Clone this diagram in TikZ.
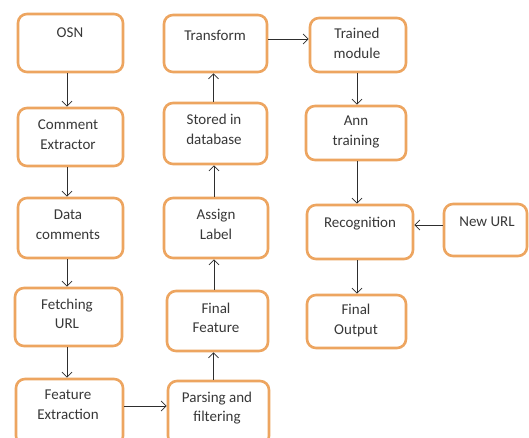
\documentclass[tikz,border=0pt]{standalone}
\usepackage{fontspec}
\setmainfont{Carlito}
\usetikzlibrary{arrows.meta}
\definecolor{boxorange}{HTML}{EDA560}
\definecolor{txtgray}{HTML}{383838}
\definecolor{arrgray}{HTML}{2E2E2E}
\tikzset{
  box/.style={draw=boxorange, line width=2.6pt, rounded corners=9pt, fill=white, inner sep=0pt},
  txt/.style={text=txtgray, align=center, font=\fontsize{15}{19.5}\selectfont, inner sep=0pt},
  arr/.style={draw=arrgray, line width=0.8pt, -{Straight Barb[length=5pt,width=10pt]}}
}
\begin{document}
\begin{tikzpicture}[x=1pt,y=-1pt]
\useasboundingbox (0,0) rectangle (529,438);
\clip (0,0) rectangle (529,438);
\fill[white] (0,0) rectangle (529,438);
% column 1
\node[box, minimum width=105pt, minimum height=58pt] (osn) at (70.5,43) {};
\node[box, minimum width=105pt, minimum height=58pt] (comment) at (70.5,137) {};
\node[box, minimum width=105pt, minimum height=60pt] (data) at (70.5,228) {};
\node[box, minimum width=107pt, minimum height=58pt] (fetch) at (68.5,317) {};
\node[box, minimum width=107pt, minimum height=66pt] (feat) at (69.5,412) {};
% column 2
\node[box, minimum width=103pt, minimum height=57pt] (transform) at (215.5,43.5) {};
\node[box, minimum width=103pt, minimum height=61pt] (stored) at (215.5,133.5) {};
\node[box, minimum width=104pt, minimum height=60pt] (assign) at (216,228) {};
\node[box, minimum width=101pt, minimum height=60pt] (finalfeat) at (217.5,321) {};
\node[box, minimum width=101pt, minimum height=64pt] (parse) at (218.5,413) {};
% column 3
\node[box, minimum width=96pt, minimum height=54pt] (trained) at (358,45) {};
\node[box, minimum width=100pt, minimum height=54pt] (ann) at (356,133) {};
\node[box, minimum width=106pt, minimum height=54pt] (recog) at (360,232) {};
\node[box, minimum width=83pt, minimum height=52pt] (newurl) at (485.5,230) {};
\node[box, minimum width=99pt, minimum height=53pt] (output) at (356.5,321.5) {};
% texts
\node[txt] (tosn) at (70,33) {OSN};
\node[txt] (tcomment) at (68,134.5) {Comment\\Extractor};
\node[txt] (tdata) at (68,224.5) {Data\\comments};
\node[txt] (tfetch) at (67,314) {Fetching\\URL};
\node[txt] (tfeat) at (68,404.5) {Feature\\Extraction};
\node[txt] (ttransform) at (215,35) {Transform};
\node[txt] (tstored) at (214,129.5) {Stored in\\database};
\node[txt] (tassign) at (216,224.5) {Assign\\Label};
\node[txt] (tfinalfeat) at (216,318) {Final\\Feature};
\node[txt] (tparse) at (217,408) {Parsing and\\filtering};
\node[txt] (ttrained) at (357,43.5) {Trained\\module};
\node[txt] (tann) at (356,132) {Ann\\training};
\node[txt] (trecog) at (360,224) {Recognition};
\node[txt] (tnewurl) at (487,222) {New URL};
\node[txt] (toutput) at (356,320.5) {Final\\Output};
% arrows column 1
\draw[arr] (osn.south -| 67,0) -- (comment.north -| 67,0);
\draw[arr] (comment.south -| 67,0) -- (data.north -| 67,0);
\draw[arr] (data.south -| 67,0) -- (fetch.north -| 67,0);
\draw[arr] (fetch.south -| 67,0) -- (feat.north -| 67,0);
\draw[arr] (feat.east |- 0,406) -- (parse.west |- 0,406);
% column 2
\draw[arr] (parse.north -| 213.5,0) -- (finalfeat.south -| 213.5,0);
\draw[arr] (finalfeat.north -| 214,0) -- (assign.south -| 214,0);
\draw[arr] (assign.north -| 214,0) -- (stored.south -| 214,0);
\draw[arr] (stored.north -| 213.5,0) -- (transform.south -| 213.5,0);
\draw[arr] (transform.east |- 0,39) -- (trained.west |- 0,39);
% column 3
\draw[arr] (trained.south -| 357,0) -- (ann.north -| 357,0);
\draw[arr] (ann.south -| 357,0) -- (recog.north -| 357,0);
\draw[arr] (newurl.west |- 0,225) -- (recog.east |- 0,225);
\draw[arr] (recog.south -| 357,0) -- (output.north -| 357,0);
\end{tikzpicture}
\end{document}
